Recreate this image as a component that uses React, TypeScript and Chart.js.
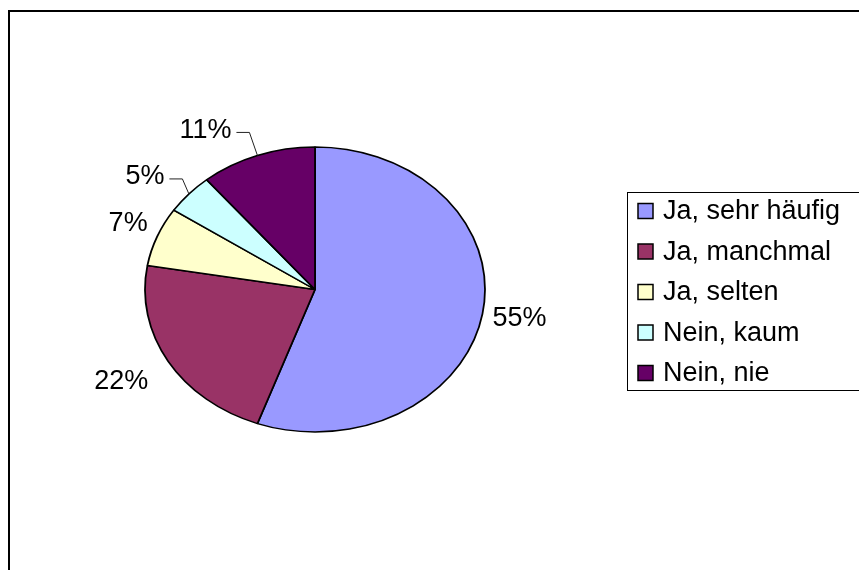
import React, { useEffect, useRef } from "react";
import { Chart, registerables } from "chart.js";

Chart.register(...registerables);

// ---- data ----
const categories = ["Ja, sehr häufig", "Ja, manchmal", "Ja, selten", "Nein, kaum", "Nein, nie"];
const shares = [55.49, 22.2, 6.7, 4.6, 11.0];
const colors = ["#9999FF", "#993366", "#FFFFCC", "#CCFFFF", "#660066"];

// ---- layout / style ----
const W = 859;
const H = 570;
const CX = 315;
const CY = 289.5;
const RY = 142.5;
const RX = 170;
const SX = RX / RY;
const BW = 1.5;
const FONT = '27px "Liberation Sans", Arial, sans-serif';
// label centre offsets from each slice's outer edge midpoint
const labelOffsets: [number, number][] = [
  [37, 5],
  [-47, 20],
  [-29, -13],
  [-44, -17],
  [-52, -25],
];
const labelLeaders = [false, false, false, true, true];

const ellipsePlugin = {
  id: "ellipse",
  beforeDatasetsDraw(chart: any) {
    const arc = chart.getDatasetMeta(0).data[0];
    const ctx = chart.ctx;
    ctx.save();
    ctx.translate(arc.x, arc.y);
    ctx.scale(SX, 1);
    ctx.translate(-arc.x, -arc.y);
  },
  afterDatasetsDraw(chart: any) {
    chart.ctx.restore();
  },
};

const decorPlugin = {
  id: "decor",
  afterDraw(chart: any) {
    const ctx = chart.ctx as CanvasRenderingContext2D;
    ctx.save();
    // outer frame
    ctx.strokeStyle = "#000";
    ctx.lineWidth = 2;
    ctx.strokeRect(9, 11, 1000, 1000);

    // data labels
    const meta = chart.getDatasetMeta(0);
    const vals = chart.data.datasets[0].data as number[];
    const total = vals.reduce((a, b) => a + b, 0);
    ctx.font = FONT;
    ctx.fillStyle = "#000";
    ctx.textAlign = "center";
    ctx.textBaseline = "middle";
    meta.data.forEach((arc: any, i: number) => {
      const mid = (arc.startAngle + arc.endAngle) / 2;
      const r = arc.outerRadius;
      const ax = arc.x + Math.cos(mid) * r * SX;
      const ay = arc.y + Math.sin(mid) * r;
      const [ox, oy] = labelOffsets[i];
      const lx = ax + ox;
      const ly = ay + oy;
      const text = Math.round((vals[i] / total) * 100) + "%";
      ctx.fillStyle = "#000";
      ctx.fillText(text, lx, ly);
      if (labelLeaders[i]) {
        const w = ctx.measureText(text).width;
        const sx = lx + w / 2 + 5;
        const sy = ly + 2;
        ctx.beginPath();
        ctx.strokeStyle = "#222";
        ctx.lineWidth = 1;
        ctx.moveTo(sx, sy);
        ctx.lineTo(sx + 13, sy);
        ctx.lineTo(ax, ay);
        ctx.stroke();
      }
    });

    // legend
    const lx = 627.5;
    const ly = 192.5;
    ctx.strokeStyle = "#000";
    ctx.lineWidth = 1;
    ctx.strokeRect(lx, ly, 300, 198);
    ctx.textAlign = "left";
    chart.data.labels.forEach((lab: string, i: number) => {
      const cy = 211 + i * 40.5;
      ctx.fillStyle = colors[i];
      ctx.fillRect(638, cy - 7.5, 15, 15);
      ctx.strokeStyle = "#000";
      ctx.lineWidth = 1.5;
      ctx.strokeRect(638, cy - 7.5, 15, 15);
      ctx.fillStyle = "#000";
      ctx.fillText(lab, 663, cy + 1);
    });
    ctx.restore();
  },
};

export default function App() {
  const ref = useRef<HTMLCanvasElement | null>(null);
  useEffect(() => {
    if (!ref.current) return;
    const chart = new Chart(ref.current, {
      type: "pie",
      data: {
        labels: categories,
        datasets: [
          {
            data: shares,
            backgroundColor: colors,
            borderColor: "#000",
            borderWidth: BW,
            clip: false as any,
          },
        ],
      },
      options: {
        responsive: false,
        animation: false,
        events: [],
        layout: {
          padding: {
            left: CX - RY - BW / 2,
            right: W - (CX + RY + BW / 2),
            top: CY - RY - BW / 2,
            bottom: H - (CY + RY + BW / 2),
          },
        },
        plugins: {
          legend: { display: false },
          tooltip: { enabled: false },
        },
      },
      plugins: [ellipsePlugin, decorPlugin],
    });
    return () => chart.destroy();
  }, []);
  return (
    <div style={{ position: "fixed", left: 0, top: 0, width: W, height: H, background: "#fff" }}>
      <canvas ref={ref} width={W} height={H} style={{ display: "block" }} />
    </div>
  );
}
